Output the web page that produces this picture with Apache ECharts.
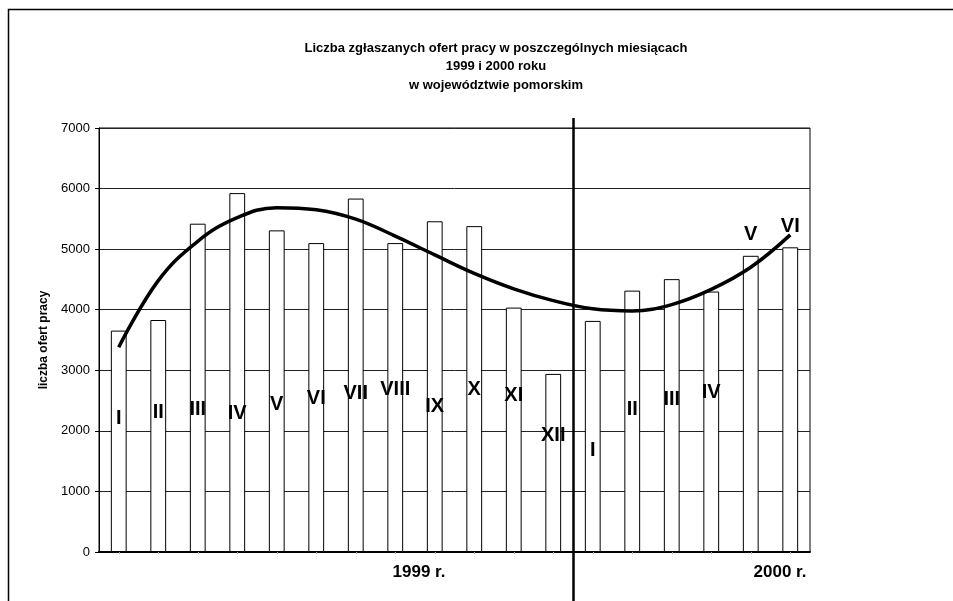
<!DOCTYPE html>
<html>
<head>
<meta charset="utf-8">
<script src="https://cdn.jsdelivr.net/npm/echarts@6/dist/echarts.min.js"></script>
<style>
html,body{margin:0;padding:0;background:#fff;}
#chart{width:953px;height:601px;}
</style>
</head>
<body>
<div id="chart"></div>
<script>
// Months (1999: I–XII, 2000: I–VI)
const categories = ['I','II','III','IV','V','VI','VII','VIII','IX','X','XI','XII','I','II','III','IV','V','VI'];
// Number of job offers reported each month
const offers = [3655, 3830, 5420, 5925, 5310, 5100, 5835, 5100, 5460, 5380, 4035, 2940, 3815, 4315, 4505, 4300, 4890, 5030];
// Trend line at each month
const trend = [3380, 4480, 5130, 5520, 5685, 5650, 5495, 5215, 4905, 4600, 4345, 4150, 4015, 3980, 4085, 4335, 4700, 5235];
// Height (in offers) at which each month label is written
const labelHeights = [2210, 2300, 2360, 2280, 2440, 2530, 2610, 2690, 2400, 2675, 2580, 1920, 1672, 2360, 2510, 2630, 5245, 5382];
// Y axis
const yMin = 0, yMax = 7000, yStep = 1000;
const yName = 'liczba ofert pracy';
const yearLabels = ['1999 r.', '2000 r.'];
const titleText = 'Liczba zgłaszanych ofert pracy w poszczególnych miesiącach\n1999 i 2000 roku\nw województwie pomorskim';

const FONT = '"Liberation Sans", Arial, sans-serif';
const chart = echarts.init(document.getElementById('chart'));

chart.setOption({
  animation: false,
  backgroundColor: '#fff',
  title: {
    text: titleText,
    left: 491, top: 34, textAlign: 'center',
    textStyle: {fontFamily: FONT, fontSize: 13, fontWeight: 'bold', color: '#000', lineHeight: 18.5}
  },
  grid: {left: 99, right: 143, top: 128, bottom: 49, show: true, borderColor: '#000', borderWidth: 1, backgroundColor: 'transparent'},
  xAxis: {
    type: 'category', data: categories, boundaryGap: true,
    axisLine: {lineStyle: {color: '#000', width: 2}},
    axisTick: {show: true, length: 2, alignWithLabel: true, lineStyle: {color: '#aaa'}},
    axisLabel: {show: false},
    splitLine: {show: false}
  },
  yAxis: {
    type: 'value', min: yMin, max: yMax, interval: yStep,
    name: yName, nameLocation: 'middle', nameGap: 40,
    nameTextStyle: {fontFamily: FONT, fontSize: 12, fontWeight: 'bold', color: '#000'},
    axisLine: {show: true, lineStyle: {color: '#000', width: 1}},
    axisTick: {show: true, length: 4, lineStyle: {color: '#000'}},
    axisLabel: {fontFamily: FONT, fontSize: 13, color: '#000', margin: 9, formatter: v => String(v)},
    splitLine: {show: true, lineStyle: {color: '#222', width: 1}}
  },
  series: [
    {
      type: 'bar', data: offers, barWidth: '40%',
      itemStyle: {color: '#fff', borderColor: '#000', borderWidth: 1},
      z: 2
    },
    {
      type: 'line', data: trend, smooth: 0.4, symbol: 'none',
      lineStyle: {color: '#000', width: 3.5}, z: 4
    },
    {
      type: 'scatter', data: labelHeights, symbolSize: 0, z: 5,
      itemStyle: {opacity: 1},
      label: {
        show: true, position: 'inside',
        formatter: p => categories[p.dataIndex],
        fontFamily: FONT, fontSize: 20, fontWeight: 'bold', color: '#000'
      }
    }
  ]
});

// Year separator, placed halfway between XII (1999) and I (2000)
const xA = chart.convertToPixel({xAxisIndex: 0}, 11);
const xB = chart.convertToPixel({xAxisIndex: 0}, 12);
const xSep = Math.round((xA + xB) / 2) + 0.5;

chart.setOption({
  graphic: [
    {type: 'rect', shape: {x: 8.5, y: 9.5, width: 1200, height: 1200}, style: {fill: null, stroke: '#000', lineWidth: 1.5}, silent: true},
    {type: 'line', shape: {x1: xSep, y1: 118, x2: xSep, y2: 601}, style: {stroke: '#000', lineWidth: 2.5}, z: 10},
    {type: 'text', x: 419, y: 572, style: {text: yearLabels[0], font: 'bold 17px ' + FONT, fill: '#000', align: 'center', verticalAlign: 'middle'}},
    {type: 'text', x: 780, y: 572, style: {text: yearLabels[1], font: 'bold 17px ' + FONT, fill: '#000', align: 'center', verticalAlign: 'middle'}}
  ]
});
</script>
</body>
</html>
